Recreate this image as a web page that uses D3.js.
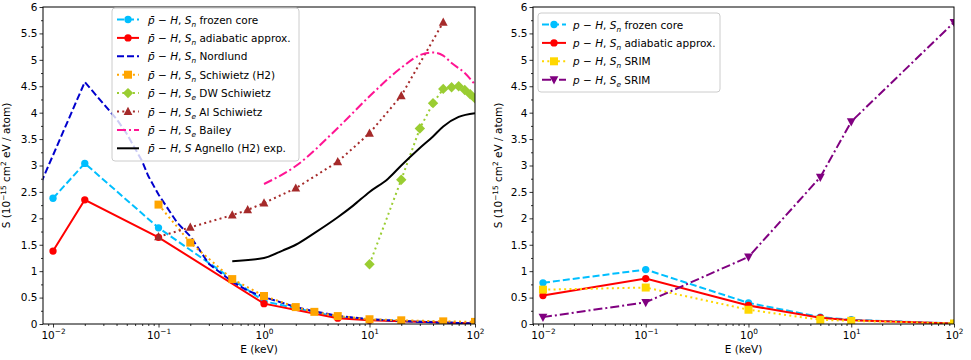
<!DOCTYPE html>
<html>
<head>
<meta charset="utf-8">
<script src="https://cdn.jsdelivr.net/npm/d3@7/dist/d3.min.js"></script>
<style>
  body { margin: 0; background: #fff; }
  text { font-family: "DejaVu Sans", sans-serif; }
</style>
</head>
<body>
<svg id="chart" width="971" height="360"></svg>
<script>
// ---- left panel: pbar - H ----
const frozenE = [0.01, 0.02, 0.1, 1, 5, 10, 100];
const frozenS = [2.38, 3.04, 1.82, 0.43, 0.13, 0.08, 0.01];

const adiabE = [0.01, 0.02, 0.1, 1, 5, 10, 100];
const adiabS = [1.38, 2.35, 1.64, 0.385, 0.11, 0.07, 0.01];

const nordE = [0.005, 0.02, 0.03, 0.04, 0.05, 0.06, 0.07, 0.08, 0.1, 0.15, 0.2, 0.3, 0.5, 0.7, 1, 2, 3, 5, 10, 20, 50, 100];
const nordS = [1.81, 4.58, 4.17, 3.88, 3.6, 3.32, 3.08, 2.8, 2.45, 1.92, 1.66, 1.14, 0.8, 0.63, 0.51, 0.32, 0.24, 0.155, 0.09, 0.055, 0.025, 0.013];

const schH2E = [0.1, 0.2, 0.5, 1, 2, 3, 5, 10, 20, 50, 100];
const schH2S = [2.26, 1.54, 0.85, 0.53, 0.32, 0.23, 0.15, 0.09, 0.07, 0.05, 0.04];

const dwE = [10, 20, 30, 40, 50, 60, 70, 80, 90, 100];
const dwS = [1.13, 2.73, 3.7, 4.18, 4.45, 4.48, 4.5, 4.43, 4.35, 4.27];

const alE = [0.1, 0.2, 0.5, 0.7, 1, 2, 5, 10, 20, 50];
const alS = [1.65, 1.83, 2.06, 2.16, 2.29, 2.57, 3.07, 3.61, 4.32, 5.71];

const baileyE = [1, 2, 5, 10, 20, 30, 40, 50, 60, 80, 100];
const baileyS = [2.65, 2.99, 3.71, 4.31, 4.85, 5.09, 5.14, 5.08, 4.94, 4.75, 4.53];

const agnelloE = [0.5, 1, 1.5, 2, 3, 5, 7, 10, 15, 20, 30, 40, 50, 70, 100];
const agnelloS = [1.19, 1.25, 1.39, 1.5, 1.72, 2.02, 2.24, 2.5, 2.75, 3.0, 3.33, 3.55, 3.74, 3.92, 3.99];

// ---- right panel: p - H ----
const pE = [0.01, 0.1, 1, 5, 10, 100];
const pFrozenS = [0.78, 1.03, 0.4, 0.13, 0.08, 0.01];
const pAdiabS = [0.54, 0.86, 0.35, 0.12, 0.07, 0.01];
const pSrimNS = [0.65, 0.69, 0.27, 0.08, 0.06, 0.01];
const pSrimES = [0.13, 0.41, 1.27, 2.78, 3.83, 5.71];

// tick values
const xMajor = [0.01, 0.1, 1, 10, 100];
const xMajorExp = ["\u22122", "\u22121", "0", "1", "2"];
const yMajor = d3.range(0, 6.01, 0.5);
const yMinor = d3.range(0.25, 6, 0.5);

const pbar = [{ t: "p\u0304", it: true }, { t: " \u2212 " }, { t: "H", it: true }, { t: ", " }];
const pplain = [{ t: "p", it: true }, { t: " \u2212 " }, { t: "H", it: true }, { t: ", " }];
const Sn = [{ t: "S", it: true }, { t: "n", it: true, sub: true }];
const Se = [{ t: "S", it: true }, { t: "e", it: true, sub: true }];

const leftSeries = [
  { E: frozenE, S: frozenS, color: "#00bfff", dash: "7,3", marker: "circle", label: pbar.concat(Sn, [{ t: " frozen core" }]) },
  { E: adiabE, S: adiabS, color: "#ff0000", dash: null, marker: "circle", label: pbar.concat(Sn, [{ t: " adiabatic approx." }]) },
  { E: nordE, S: nordS, color: "#0000cd", dash: "7,3", marker: null, label: pbar.concat(Sn, [{ t: " Nordlund" }]) },
  { E: schH2E, S: schH2S, color: "#ffa500", dash: "2,3.3", marker: "square", label: pbar.concat(Sn, [{ t: " Schiwietz (H2)" }]) },
  { E: dwE, S: dwS, color: "#9acd32", dash: "2,3.3", marker: "diamond", label: pbar.concat(Se, [{ t: " DW Schiwietz" }]) },
  { E: alE, S: alS, color: "#a52a2a", dash: "2,3.3", marker: "triangle", label: pbar.concat(Se, [{ t: " Al Schiwietz" }]) },
  { E: baileyE, S: baileyS, color: "#ff1493", dash: "9,3,2,3", marker: null, smooth: true, label: pbar.concat(Se, [{ t: " Bailey" }]) },
  { E: agnelloE, S: agnelloS, color: "#000000", dash: null, marker: null, smooth: true, label: pbar.concat([{ t: "S", it: true }, { t: " Agnello (H2) exp." }]) }
];

const rightSeries = [
  { E: pE, S: pFrozenS, color: "#00bfff", dash: "7,3", marker: "circle", label: pplain.concat(Sn, [{ t: " frozen core" }]) },
  { E: pE, S: pAdiabS, color: "#ff0000", dash: null, marker: "circle", label: pplain.concat(Sn, [{ t: " adiabatic approx." }]) },
  { E: pE, S: pSrimNS, color: "#ffd700", dash: "2,3.3", marker: "square", label: pplain.concat(Sn, [{ t: " SRIM" }]) },
  { E: pE, S: pSrimES, color: "#800080", dash: "9,3,2,3", marker: "triangleDown", label: pplain.concat(Se, [{ t: " SRIM" }]) }
];

const svg = d3.select("#chart");
const FS = 10.5;

function markerPath(type) {
  if (type === "circle") return d3.symbol(d3.symbolCircle, 42)();
  if (type === "square") return "M-4,-4h8v8h-8Z";
  if (type === "diamond") return "M0,-5.2L5.2,0L0,5.2L-5.2,0Z";
  if (type === "triangle") return "M0,-4.8L4.4,3.4L-4.4,3.4Z";
  if (type === "triangleDown") return "M0,4.8L4.4,-3.4L-4.4,-3.4Z";
  return null;
}

// write text made of parts (italic / subscript / superscript) into a text element
function richText(sel, parts) {
  let shift = 0;
  parts.forEach(p => {
    const ts = sel.append("tspan").text(p.t);
    if (p.it) ts.attr("font-style", "italic");
    let want = p.sub ? 3 : p.sup ? -4.5 : 0;
    if (want !== shift) { ts.attr("dy", want - shift); shift = want; }
    if (p.sub || p.sup) ts.attr("font-size", FS * 0.7);
  });
}

function drawPanel(opt) {
  const g = svg.append("g").attr("transform", `translate(${opt.left},${opt.top})`);
  const w = opt.width, h = opt.height;

  const x = d3.scaleLog().domain([Math.pow(10, opt.xMinExp), 100]).range([0, w]);
  const y = d3.scaleLinear().domain([0, 6]).range([h, 0]);

  const clipId = "clip" + opt.id;
  g.append("clipPath").attr("id", clipId).append("rect").attr("width", w).attr("height", h);

  // minor x ticks
  const xMinor = [];
  [0.001, 0.01, 0.1, 1, 10].forEach(dec => {
    for (let k = 2; k <= 9; k++) {
      const v = dec * k;
      if (v >= x.domain()[0] && v <= 100) xMinor.push(v);
    }
  });

  g.append("g").attr("transform", `translate(0,${h})`)
    .call(d3.axisBottom(x).tickValues(xMinor).tickFormat("").tickSize(2).tickSizeOuter(0))
    .call(a => a.select(".domain").remove());
  const xa = g.append("g").attr("transform", `translate(0,${h})`)
    .call(d3.axisBottom(x).tickValues(xMajor).tickFormat("").tickSize(3.5).tickSizeOuter(0));
  xa.select(".domain").remove();
  xa.selectAll(".tick").each(function (d, i) {
    const t = d3.select(this).append("text")
      .attr("y", 14.5).attr("fill", "#000").attr("font-size", FS).attr("text-anchor", "middle");
    richText(t, [{ t: "10" }, { t: xMajorExp[i], sup: true }]);
  });

  g.append("g")
    .call(d3.axisLeft(y).tickValues(yMinor).tickFormat("").tickSize(2).tickSizeOuter(0))
    .call(a => a.select(".domain").remove());
  g.append("g")
    .call(d3.axisLeft(y).tickValues(yMajor).tickFormat(d => String(+d.toFixed(1))).tickSize(3.5).tickSizeOuter(0))
    .call(a => a.select(".domain").remove())
    .call(a => a.selectAll("text").attr("font-size", FS).attr("fill", "#000").attr("x", -5.5));

  g.selectAll(".tick line").attr("stroke", "#000").attr("stroke-width", 0.8);

  // axis labels
  g.append("text").attr("x", w / 2).attr("y", h + 29).attr("text-anchor", "middle")
    .attr("font-size", FS).text("E (keV)");
  const yl = g.append("text")
    .attr("transform", `translate(${opt.ylabX},${h / 2}) rotate(-90)`)
    .attr("text-anchor", "middle").attr("font-size", FS);
  richText(yl, [{ t: "S (10" }, { t: "\u221215", sup: true }, { t: " cm" }, { t: "2", sup: true }, { t: " eV / atom)" }]);

  // series
  const plot = g.append("g").attr("clip-path", `url(#${clipId})`);
  opt.series.forEach(s => {
    const pts = s.E.map((e, i) => [e, s.S[i]]);
    const line = d3.line().x(d => x(d[0])).y(d => y(d[1]))
      .curve(s.smooth ? d3.curveMonotoneX : d3.curveLinear);
    plot.append("path").datum(pts)
      .attr("d", line).attr("fill", "none")
      .attr("stroke", s.color).attr("stroke-width", 2)
      .attr("stroke-dasharray", s.dash);
    if (s.marker) {
      plot.selectAll(null).data(pts).enter().append("path")
        .attr("d", markerPath(s.marker))
        .attr("transform", d => `translate(${x(d[0])},${y(d[1])})`)
        .attr("fill", s.color);
    }
  });

  // frame
  g.append("rect").attr("width", w).attr("height", h)
    .attr("fill", "none").attr("stroke", "#000").attr("stroke-width", 1);

  // legend
  const lg = svg.append("g").attr("transform", `translate(${opt.leg.x},${opt.leg.y})`);
  lg.append("rect").attr("width", opt.leg.w).attr("height", opt.leg.h)
    .attr("rx", 3).attr("fill", "#fff").attr("fill-opacity", 0.8)
    .attr("stroke", "#cccccc").attr("stroke-width", 1);
  opt.series.forEach((s, i) => {
    const cy = opt.leg.row0 + i * opt.leg.step;
    lg.append("line").attr("x1", opt.leg.hx0).attr("x2", opt.leg.hx1)
      .attr("y1", cy).attr("y2", cy)
      .attr("stroke", s.color).attr("stroke-width", 2).attr("stroke-dasharray", s.dash);
    if (s.marker) {
      lg.append("path").attr("d", markerPath(s.marker))
        .attr("transform", `translate(${(opt.leg.hx0 + opt.leg.hx1) / 2},${cy})`)
        .attr("fill", s.color);
    }
    const t = lg.append("text").attr("x", opt.leg.tx).attr("y", cy + 4).attr("font-size", FS);
    richText(t, s.label);
  });
}

drawPanel({
  id: "L", left: 43, top: 7, width: 432, height: 317, xMinExp: -2.095, ylabX: -33,
  series: leftSeries,
  leg: { x: 112, y: 8, w: 187, h: 153, row0: 11.5, step: 18.4, hx0: 5, hx1: 27, tx: 36 }
});

drawPanel({
  id: "R", left: 533, top: 7, width: 421, height: 317, xMinExp: -2.097, ylabX: -31,
  series: rightSeries,
  leg: { x: 538, y: 13, w: 182, h: 79, row0: 11.5, step: 18.4, hx0: 4, hx1: 28, tx: 35 }
});
</script>
</body>
</html>
